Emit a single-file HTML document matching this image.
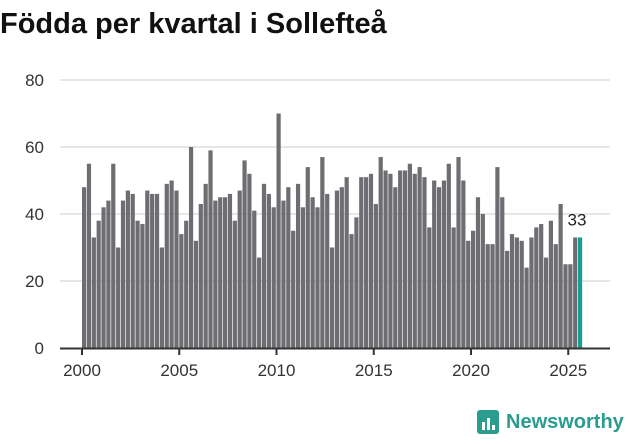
<!DOCTYPE html>
<html><head><meta charset="utf-8"><style>
body{margin:0;background:#fff;width:631px;height:439px;overflow:hidden;font-family:"Liberation Sans",sans-serif}
</style></head><body>
<svg width="631" height="439">
<text x="0" y="33" font-size="29" font-weight="bold" fill="#111">Födda per kvartal i Sollefteå</text>
<g id="grid"></g><g id="bars"></g><g id="xaxis"></g>
<g>
<rect x="477" y="410" width="22" height="24" rx="3" fill="#2a9d8f"/>
<rect x="482" y="422" width="3" height="8" fill="#fff"/><rect x="487" y="418" width="3" height="12" fill="#fff"/><rect x="492" y="425" width="3" height="5" fill="#fff"/>
<text x="506" y="428" font-size="20" font-weight="bold" fill="#2a9d8f">Newsworthy</text>
</g>
</svg>
<script>
const values=[48,55,33,38,42,44,55,30,44,47,46,38,37,47,46,46,30,49,50,47,34,38,60,32,43,49,59,44,45,45,46,38,47,56,52,41,27,49,46,42,70,44,48,35,49,42,54,45,42,57,46,30,47,48,51,34,39,51,51,52,43,57,53,52,48,53,53,55,52,54,51,36,50,48,50,55,36,57,50,32,35,45,40,31,31,54,45,29,34,33,32,24,33,36,37,27,38,31,43,25,25,33,33];
const startYear=2000;
const yTicks=[0,20,40,60,80];
const xTicks=[2000,2005,2010,2015,2020,2025];
const NS="http://www.w3.org/2000/svg";
const y=v=>348-v*3.35;
const x=t=>82+(t-2000)*19.45;
function mk(tag,attrs,parent){const e=document.createElementNS(NS,tag);for(const k in attrs)e.setAttribute(k,attrs[k]);parent.appendChild(e);return e;}
const grid=document.getElementById('grid'),bars=document.getElementById('bars'),xa=document.getElementById('xaxis');
yTicks.forEach(t=>{
 if(t>0){const l=mk('line',{x1:60,x2:610,y1:y(t),y2:y(t),stroke:'#ddd','stroke-width':1.5},grid);
 
 }
 const tx=mk('text',{x:44,y:y(t)+6,'text-anchor':'end','font-size':17,fill:'#333'},grid);tx.textContent=t;
 
 
});
values.forEach((v,i)=>{
 const t=startYear+i/4;const last=i===values.length-1;
 const r=mk('rect',{x:x(t),y:y(v),width:4.2,height:v*3.35,fill:last?'#1a9e94':'#6e6d72'},bars);
 
 
 if(last){const lb=mk('text',{x:x(t)-1,y:y(v)-12,'text-anchor':'middle','font-size':17,fill:'#222'},bars);lb.textContent=v;
 
 }
});
const ax=mk('line',{x1:60,x2:610,y1:348.5,y2:348.5,stroke:'#333','stroke-width':2},xa);


xTicks.forEach(t=>{
 mk('line',{x1:x(t),x2:x(t),y1:348,y2:355,stroke:'#333','stroke-width':2},xa);
 const tx=mk('text',{x:x(t),y:376,'text-anchor':'middle','font-size':17,fill:'#333'},xa);tx.textContent=t;
 
 
});
</script>
</body></html>
